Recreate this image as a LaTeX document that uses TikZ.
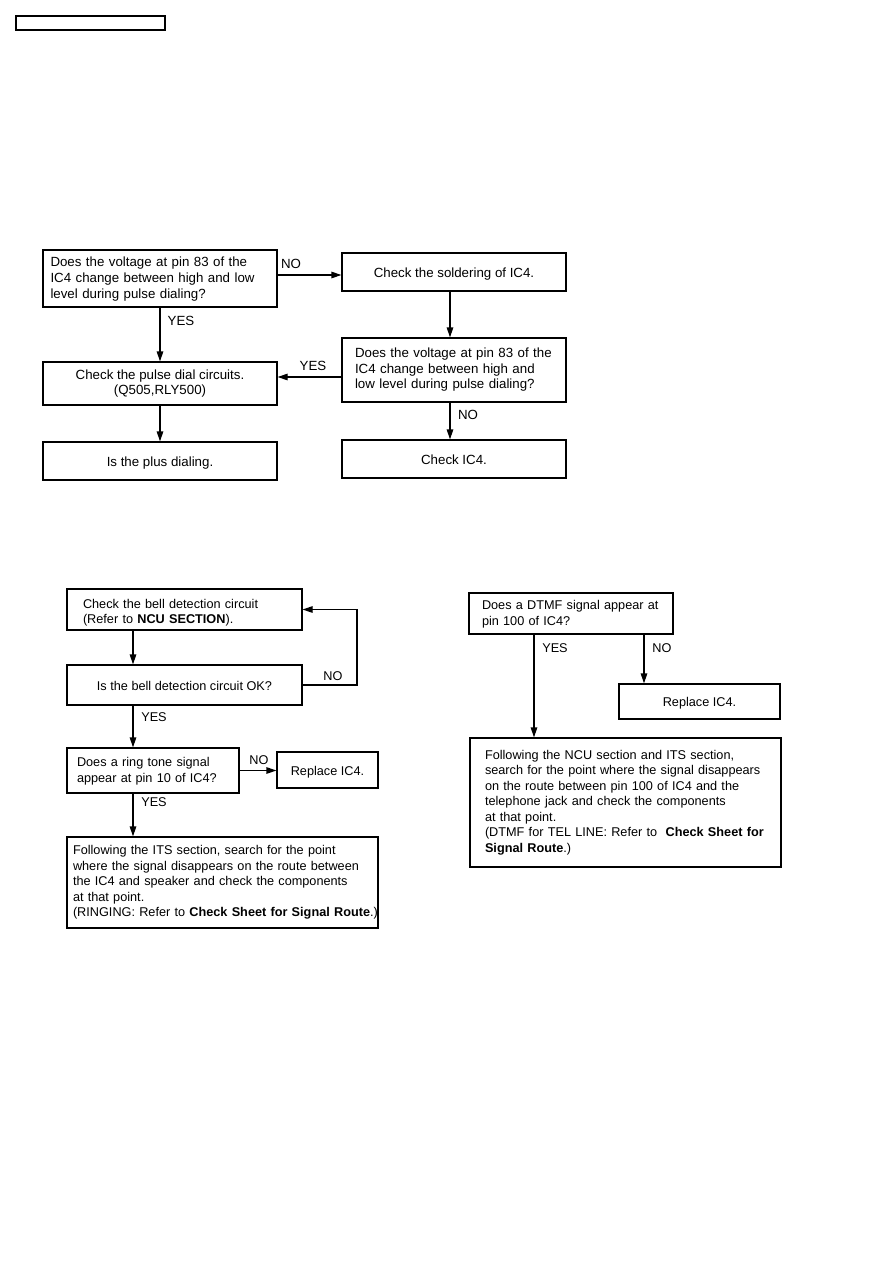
\documentclass[tikz,border=0pt]{standalone}
\usepackage{fontspec}
\setmainfont{Liberation Sans}
\usetikzlibrary{arrows.meta}
\newcommand{\lefttext}[1]{\noindent\begin{tabular}{@{}l@{}}#1\end{tabular}}
\begin{document}
\begin{tikzpicture}[x=1pt,y=-1pt,
  box/.style={draw, line width=1.2pt, rectangle, inner ysep=0pt, font=\fontsize{13.3}{15.6}\selectfont},
  bbox/.style={box, font=\fontsize{12.7}{15.5}\selectfont},
  ltext/.style={align=left},
  ctext/.style={align=center, inner xsep=0pt},
  one/.style={text height=10pt, text depth=0pt},
  arr/.style={line width=1.2pt, -{Triangle[length=10pt,width=6.5pt]}},
  lbl/.style={font=\fontsize{13.3}{15.6}\selectfont, inner sep=0pt},
  blbl/.style={lbl, font=\fontsize{12.7}{15.5}\selectfont}]
\useasboundingbox (0,0) rectangle (893,1263);

% header box
\node[draw, line width=1.3pt, minimum width=149pt, minimum height=14pt, inner sep=0pt] (hdr) at (90.5,23) {};

% ---- top flowchart ----
\node[box, ltext, minimum height=57pt, text width=219pt, inner xsep=7.5pt] (A) at (160,278.5)
  {\lefttext{\rule{0pt}{12.5pt}Does the voltage at pin 83 of the\\IC4 change between high and low\\level during pulse dialing?}};
\node[box, ctext, one, minimum width=224pt, minimum height=38pt] (B) at (454,272) {Check the soldering of IC4.};
\node[box, ltext, minimum height=64pt, text width=198pt, inner xsep=13pt] (C) at (454,370)
  {\lefttext{Does the voltage at pin 83 of the\\IC4 change between high and\\low level during pulse dialing?}};
\node[box, ctext, minimum width=234pt, minimum height=43pt] (D) at (160,383.5)
  {Check the pulse dial circuits.\\(Q505,RLY500)};
\node[box, ctext, one, minimum width=234pt, minimum height=38pt] (E) at (160,461) {Is the plus dialing.};
\node[box, ctext, one, minimum width=224pt, minimum height=38pt] (F) at (454,459) {Check IC4.};

\coordinate (bin) at ([yshift=-3pt]B.west);
\coordinate (bc) at ([xshift=-4pt]B.south);
\coordinate (cd) at ([yshift=-7pt]C.west);
\coordinate (cf) at ([xshift=-4pt]C.south);
\draw[arr] (bin -| A.east) -- (bin);
\draw[arr] (A.south) -- (D.north);
\draw[arr] (bc) -- (bc |- C.north);
\draw[arr] (cd) -- (cd -| D.east);
\draw[arr] (cf) -- (cf |- F.north);
\draw[arr] (D.south) -- (E.north);

\node[lbl] (l1) at (291,264) {NO};
\node[lbl] (l2) at (181,321) {YES};
\node[lbl] (l3) at (313,366) {YES};
\node[lbl] (l4) at (468,415) {NO};

% ---- bottom-left flowchart ----
\node[bbox, ltext, minimum height=41pt, text width=203pt, inner xsep=16pt] (G) at (184.5,609.5)
  {\lefttext{\rule{0pt}{18pt}Check the bell detection circuit\\(Refer to \textbf{NCU SECTION}).}};
\node[bbox, ctext, one, minimum width=235pt, minimum height=40pt] (H) at (184.5,685) {Is the bell detection circuit OK?};
\node[bbox, ltext, minimum height=45pt, text width=152pt, inner xsep=10pt] (I) at (153,770.5)
  {\lefttext{\rule{0pt}{13pt}Does a ring tone signal\\appear at pin 10 of IC4?}};
\node[bbox, ctext, one, minimum width=101pt, minimum height=36pt] (J) at (327.5,770) {Replace IC4.};
\node[bbox, ltext, minimum height=91pt, text width=299pt, inner xsep=6pt] (K) at (222.5,882.5)
  {\lefttext{Following the ITS section, search for the point\\where the signal disappears on the route between\\the IC4 and speaker and check the components\\at that point.\\(RINGING: Refer to \textbf{Check Sheet for Signal Route}.)}};

\coordinate (gloop) at (357,609.5);
\coordinate (gh) at ([xshift=-51.5pt]G.south);
\coordinate (hi) at ([xshift=-51.5pt]H.south);
\coordinate (ik) at ([xshift=-20pt]I.south);
\draw[arr] (gh) -- (gh |- H.north);
\draw[arr] (H.east) -| (gloop) -- (G.east);
\draw[arr] (hi) -- (hi |- I.north);
\draw[arr] (I.east) -- (I.east -| J.west);
\draw[arr] (ik) -- (ik |- K.north);

\node[blbl] (l5) at (333,676) {NO};
\node[blbl] (l6) at (154,717) {YES};
\node[blbl] (l7) at (259,760) {NO};
\node[blbl] (l8) at (154,802) {YES};

% ---- bottom-right flowchart ----
\node[bbox, ltext, minimum height=41pt, text width=178pt, inner xsep=13pt] (L) at (571,613.5)
  {\lefttext{\rule{0pt}{13pt}Does a DTMF signal appear at\\pin 100 of IC4?}};
\node[bbox, ctext, one, minimum width=161pt, minimum height=35pt] (M) at (699.5,701.5) {Replace IC4.};
\node[bbox, ltext, minimum height=129pt, text width=281pt, inner xsep=15pt] (N) at (625.5,802.5)
  {\lefttext{Following the NCU section and ITS section,\\search for the point where the signal disappears\\on the route between pin 100 of IC4 and the\\telephone jack and check the components\\at that point.\\(DTMF for TEL LINE: Refer to\ \ \textbf{Check Sheet for}\\\textbf{Signal Route}.)}};

\coordinate (ln) at ([xshift=-37pt]L.south);
\coordinate (lm) at ([xshift=73pt]L.south);
\draw[arr] (ln) -- (ln |- N.north);
\draw[arr] (lm) -- (lm |- M.north);

\node[blbl] (l9) at (555,648) {YES};
\node[blbl] (l10) at (662,648) {NO};
\end{tikzpicture}
\end{document}
